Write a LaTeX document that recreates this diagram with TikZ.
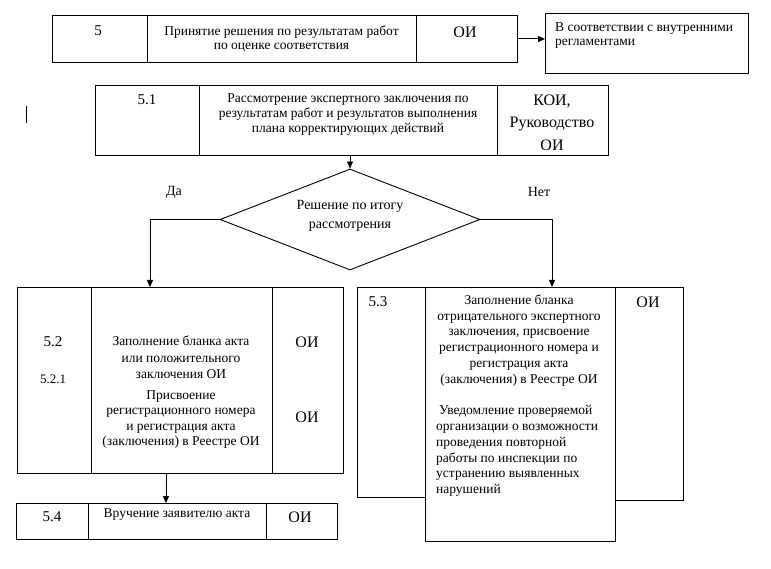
\documentclass[tikz,border=0pt]{standalone}
\usepackage{fontspec}
\setmainfont{Liberation Serif}
\usetikzlibrary{shapes.geometric,arrows.meta}
\begin{document}
\begin{tikzpicture}[x=1pt,y=-1pt,
  cellbox/.style={draw,line width=0.9pt,anchor=north west,inner sep=0pt},
  arr/.style={line width=0.9pt,-{Triangle[length=7pt,width=6pt]}},
  txt/.style={inner sep=0pt,align=center},
  num/.style={txt,font=\fontsize{15}{18}\selectfont},
  smallnum/.style={txt,font=\fontsize{13}{15}\selectfont},
  oi/.style={txt,font=\fontsize{16}{22.5}\selectfont},
  body/.style={txt,font=\fontsize{13.5}{15.8}\selectfont},
  topbody/.style={txt,font=\fontsize{13.5}{14.8}\selectfont}]
\fill[white] (0,0) rectangle (771,569);
\useasboundingbox (0,0) rectangle (771,569);

% row 5
\node[cellbox,minimum width=95pt,minimum height=47pt] (c5a) at (52,15) {};
\node[cellbox,minimum width=269pt,minimum height=47pt] (c5b) at (147,15) {};
\node[cellbox,minimum width=101pt,minimum height=47pt] (c5c) at (416,15) {};
\node[cellbox,minimum width=203pt,minimum height=60pt] (r5) at (545,13) {};
\node[num] (t5) at (98,31) {5};
\node[topbody] (t5b) at (281.5,39) {Принятие решения по результатам работ\\по оценке соответствия};
\node[oi] (t5c) at (465,32) {ОИ};
\node[topbody,align=left,anchor=west] (tr5) at (555,35.5) {В соответствии с внутренними\\регламентами};
\draw[arr] (c5c.east) -- (c5c.east -| r5.west);

% cursor mark
\draw[line width=0.9pt] (26,106) -- (26,123);

% row 5.1
\node[cellbox,minimum width=104pt,minimum height=70pt] (c51a) at (95,85) {};
\node[cellbox,minimum width=298pt,minimum height=70pt] (c51b) at (199,85) {};
\node[cellbox,minimum width=111pt,minimum height=70pt] (c51c) at (497,85) {};
\node[num] (t51) at (147,100) {5.1};
\node[topbody,font=\fontsize{13.5}{15}\selectfont] (t51b) at (348,115) {Рассмотрение экспертного заключения по\\результатам работ и результатов выполнения\\плана корректирующих действий};
\node[oi] (t51c) at (552,122.5) {КОИ,\\Руководство\\ОИ};

% decision
\node[draw,line width=0.9pt,diamond,inner sep=0pt,minimum width=260pt,minimum height=101pt] (d) at (350,219.5) {};
\node[txt,font=\fontsize{14}{19}\selectfont] (td) at (350,215.5) {Решение по итогу\\рассмотрения};
\node[txt,font=\fontsize{14}{16}\selectfont] (yes) at (174,192) {Да};
\node[txt,font=\fontsize{14}{16}\selectfont] (no) at (539,192) {Нет};
\draw[arr] ([xshift=151pt]c51b.south west) -- (d.north);

% row 5.2
\node[cellbox,minimum width=74pt,minimum height=186pt] (c52a) at (17,287) {};
\node[cellbox,minimum width=181pt,minimum height=186pt] (c52b) at (91,287) {};
\node[cellbox,minimum width=71pt,minimum height=186pt] (c52c) at (272,287) {};
\node[num] (t52) at (53,342) {5.2};
\node[smallnum] (t521) at (53,379) {5.2.1};
\node[body,font=\fontsize{13.5}{16.5}\selectfont] (t52b) at (181,357.5) {Заполнение бланка акта\\или положительного\\заключения ОИ};
\node[body,font=\fontsize{13.5}{15.3}\selectfont] (t521b) at (181,419.5) {Присвоение\\регистрационного номера\\и регистрация акта\\(заключения) в Реестре ОИ};
\node[oi] (t52c) at (307,342) {ОИ};
\node[oi] (t521c) at (307,417) {ОИ};
\draw[arr] (d.west) -| ([xshift=59pt]c52b.north west);

% row 5.4
\node[cellbox,minimum width=72pt,minimum height=36pt] (c54a) at (16,503) {};
\node[cellbox,minimum width=178pt,minimum height=36pt] (c54b) at (88,503) {};
\node[cellbox,minimum width=71pt,minimum height=36pt] (c54c) at (266,503) {};
\node[num] (t54) at (52,517) {5.4};
\node[body] (t54b) at (177,515) {Вручение заявителю акта};
\node[oi] (t54c) at (300,517) {ОИ};
\draw[arr] ([xshift=75pt]c52b.south west) -- ([xshift=75pt]c52b.south west |- c54b.north);

% row 5.3
\node[cellbox,minimum width=68pt,minimum height=210pt] (c53a) at (357,287) {};
\node[cellbox,minimum width=190pt,minimum height=254pt] (c53b) at (425,287) {};
\node[cellbox,minimum width=68pt,minimum height=213pt] (c53c) at (615,287) {};
\node[num] (t53) at (378,302) {5.3};
\node[oi] (t53c) at (648,302) {ОИ};
\node[body] (t53b) at (519,340.5) {Заполнение бланка\\отрицательного экспертного\\заключения, присвоение\\регистрационного номера и\\регистрация акта\\(заключения) в Реестре ОИ};
\node[body,align=left,anchor=west] (t53d) at (436,451) {\hspace{3pt}Уведомление проверяемой\\организации о возможности\\проведения повторной\\работы по инспекции по\\устранению выявленных\\нарушений};
\draw[arr] (d.east) -| ([xshift=127pt]c53b.north west);
\end{tikzpicture}
\end{document}
